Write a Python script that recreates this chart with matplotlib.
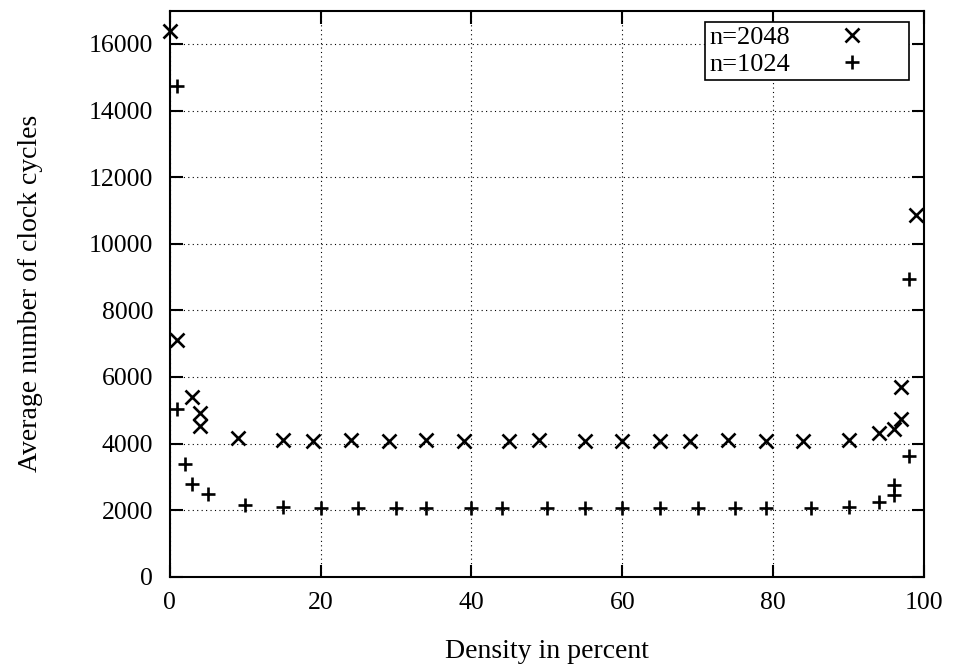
import numpy as np
import matplotlib
matplotlib.use("Agg")
import matplotlib.pyplot as plt

plt.rcParams['font.family'] = ['Liberation Serif', 'DejaVu Serif']

# density (percent) and average clock cycles, n=2048
dens_2048 = [0, 1, 3, 4, 4, 9, 15, 19, 24, 29, 34, 39, 45, 49, 55, 60,
             65, 69, 74, 79, 84, 90, 94, 96, 97, 97, 99]
cycles_2048 = [16400, 7120, 5390, 4910, 4520, 4170, 4120, 4090, 4100, 4090,
               4100, 4080, 4090, 4100, 4090, 4080, 4090, 4090, 4100, 4080,
               4090, 4120, 4310, 4440, 4740, 5690, 10860]

# n=1024
dens_1024 = [1, 1, 2, 3, 5, 10, 15, 20, 25, 30, 34, 40, 44, 50, 55, 60,
             65, 70, 75, 79, 85, 90, 94, 96, 96, 98, 98]
cycles_1024 = [14750, 5030, 3380, 2800, 2500, 2140, 2080, 2060, 2060, 2060,
               2060, 2050, 2050, 2050, 2050, 2050, 2050, 2050, 2050, 2050,
               2070, 2090, 2250, 2450, 2750, 3620, 8930]

x_ticks = [0, 20, 40, 60, 80, 100]
y_ticks = list(range(0, 16001, 2000))

fig = plt.figure(figsize=(9.54, 6.66), dpi=100)
ax = fig.add_axes([0.178, 0.134, 0.7905, 0.85])

ax.plot(dens_2048, cycles_2048, linestyle='none', marker='x', color='black',
        markersize=10, markeredgewidth=1.9, label='n=2048', clip_on=False, zorder=3)
ax.plot(dens_1024, cycles_1024, linestyle='none', marker='+', color='black',
        markersize=9.5, markeredgewidth=1.9, label='n=1024', clip_on=False, zorder=3)

ax.set_xlim(0, 100)
ax.set_ylim(0, 17000)
ax.set_xticks(x_ticks)
ax.set_yticks(y_ticks)
ax.grid(True, color='black', linestyle=(0, (1, 3)), linewidth=0.8)
ax.tick_params(direction='in', length=9, width=1.5, labelsize=18.5,
               top=True, right=True)
ax.tick_params(axis='x', pad=11)
ax.tick_params(axis='y', pad=12)
for sp in ax.spines.values():
    sp.set_linewidth(1.5)

ax.set_xlabel('Density in percent', fontsize=20, labelpad=18)
ax.set_ylabel('Average number of clock cycles', fontsize=20, labelpad=33)

leg = ax.legend(loc='upper right', markerfirst=False, fontsize=19,
                fancybox=False, framealpha=1, edgecolor='black',
                handlelength=4.0, handletextpad=0.35, borderpad=0.15,
                labelspacing=0.12, borderaxespad=0,
                bbox_to_anchor=(0.980, 0.980))
leg.get_frame().set_linewidth(1.2)

fig.savefig('out.png', dpi=100)
